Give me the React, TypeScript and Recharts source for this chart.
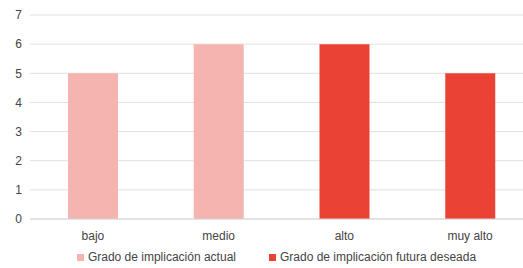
import { BarChart, Bar, XAxis, YAxis, CartesianGrid, Legend } from 'recharts'

const niveles = ['bajo', 'medio', 'alto', 'muy alto']
const actual = [5, 6, null, null]
const futura = [null, null, 6, 5]
const yTicks = [0, 1, 2, 3, 4, 5, 6, 7]

const ROSA = '#f5b4af'
const ROJO = '#ea4335'
const TEXTO = '#444444'

const data = niveles.map((nivel, i) => ({
  nivel,
  actual: actual[i],
  futura: futura[i],
}))

const series = [
  { key: 'actual', name: 'Grado de implicación actual', color: ROSA },
  { key: 'futura', name: 'Grado de implicación futura deseada', color: ROJO },
]

const CustomLegend = () => (
  <div style={{ display: 'flex', justifyContent: 'center', gap: 33, fontSize: 12, color: TEXTO, paddingLeft: 20, paddingTop: 14 }}>
    {series.map(s => (
      <div key={s.key} style={{ display: 'flex', alignItems: 'center', gap: 4 }}>
        <span style={{ display: 'inline-block', width: 7, height: 7, backgroundColor: s.color }} />
        <span>{s.name}</span>
      </div>
    ))}
  </div>
)

export default function App() {
  return (
    <div style={{ position: 'absolute', left: 0, top: 0, width: 523, height: 268, overflow: 'hidden', background: '#fff', fontFamily: '"Liberation Sans", Arial, sans-serif' }}>
      <BarChart width={533} height={268} data={data} margin={{ top: 15, right: 0, left: 0, bottom: 0 }}>
        <CartesianGrid vertical={false} stroke="#e0e0e0" />
        <XAxis
          dataKey="nivel"
          axisLine={{ stroke: '#d6d6d6' }}
          tickLine={false}
          tick={{ fontSize: 12, fill: TEXTO }}
          height={19}
          tickMargin={6}
        />
        <YAxis
          domain={[0, 7]}
          ticks={yTicks}
          axisLine={false}
          tickLine={false}
          width={30}
          tick={{ fontSize: 12, fill: TEXTO }}
          interval={0}
        />
        <Legend verticalAlign="bottom" height={30} content={<CustomLegend />} wrapperStyle={{ bottom: 2 }} />
        {series.map(s => (
          <Bar key={s.key} dataKey={s.key} name={s.name} stackId="a" fill={s.color} barSize={50} isAnimationActive={false} />
        ))}
      </BarChart>
    </div>
  )
}
